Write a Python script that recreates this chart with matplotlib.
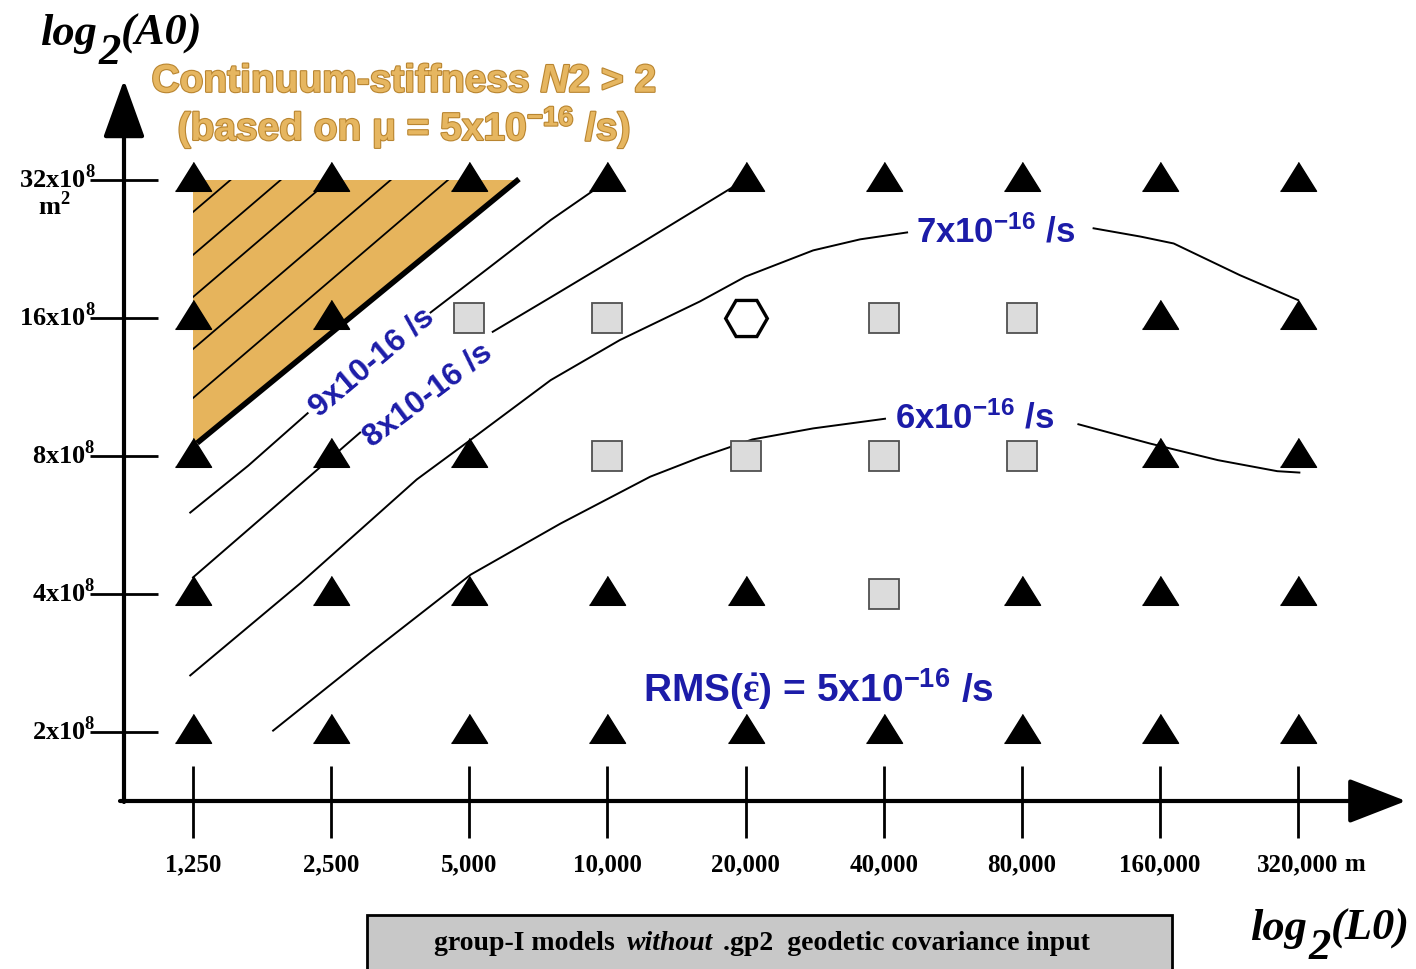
import numpy as np
import matplotlib
matplotlib.use("Agg")
import matplotlib.pyplot as plt
import matplotlib.patheffects as pe
from matplotlib.patches import Polygon, Rectangle, FancyArrowPatch

plt.rcParams["mathtext.fontset"] = "custom"
plt.rcParams["mathtext.rm"] = "Liberation Sans:bold"
plt.rcParams["mathtext.it"] = "Liberation Sans:bold:italic"
plt.rcParams["mathtext.bf"] = "Liberation Sans:bold"
plt.rcParams["mathtext.sf"] = "Liberation Serif:bold"

# ---- values ----
L0 = [1250, 2500, 5000, 10000, 20000, 40000, 80000, 160000, 320000]   # m
A0 = [2, 4, 8, 16, 32]                                                  # x10^8 m^2

# symbol of each model, per A0 row (columns follow L0): T triangle, S square, H hexagon
symbols = {
    32: "TTTTTTTTT",
    16: "TTSSHSSTT",
    8:  "TTTSSSSTT",
    4:  "TTTTTSTTT",
    2:  "TTTTTTTTT",
}

# RMS strain-rate contours in grid steps (log2(L0/1250), log2(A0/2e8)); nan = gap for the label
contour_9 = [(-0.02, 1.59), (0.40, 1.93), (0.83, 2.31), (np.nan, np.nan),
             (1.72, 3.04), (2.15, 3.37), (2.59, 3.71), (2.98, 3.98)]
contour_8 = [(0.00, 1.12), (0.60, 1.64), (1.21, 2.17), (np.nan, np.nan),
             (2.17, 2.90), (2.59, 3.15), (3.24, 3.54), (3.96, 3.98)]
contour_7 = [(-0.02, 0.41), (0.78, 1.08), (1.62, 1.83), (2.00, 2.11), (2.59, 2.55),
             (3.09, 2.84), (3.67, 3.12), (4.00, 3.30), (4.49, 3.49), (4.83, 3.57),
             (5.17, 3.62), (np.nan, np.nan), (6.52, 3.65), (6.86, 3.59), (7.10, 3.54),
             (7.58, 3.31), (8.00, 3.13)]
contour_6 = [(0.58, 0.01), (1.28, 0.57), (2.01, 1.14), (2.66, 1.51), (3.31, 1.85),
             (3.67, 1.99), (4.05, 2.12), (4.49, 2.20), (5.01, 2.27), (np.nan, np.nan),
             (6.41, 2.23), (6.93, 2.09), (7.42, 1.97), (7.85, 1.89), (8.01, 1.88)]

# continuum-stiffness N2 > 2 region and its boundary
region_n2 = [(0.0, 4.0), (2.35, 4.0), (0.0, 2.065)]
boundary_n2 = [(0.03, 2.094), (2.36, 4.007)]
hatch_starts = [3.768, 3.457, 3.152, 2.775, 2.420]
hatch_slope = 0.856

W, H = 1416, 969
BLUE = "#1c1ca8"
SERIF = dict(family="Liberation Serif", weight="bold")
SANS = dict(family="Liberation Sans", weight="bold")

fig = plt.figure(figsize=(W / 100, H / 100), dpi=100)
ax = fig.add_axes([0, 0, 1, 1])
ax.set_xlim(-193 / 138.125, (W - 193) / 138.125)
ax.set_ylim((732 - H) / 138, 732 / 138)
ax.axis("off")


def P(x, y):
    # picture pixel -> grid-step coordinates
    return (x - 193) / 138.125, (732 - y) / 138


xs = np.log2(np.array(L0) / L0[0])
ys = np.log2(np.array(A0) / A0[0])

# shaded region with hatching
poly = Polygon(region_n2, closed=True, facecolor="#e6b45c", edgecolor="none", zorder=1)
ax.add_patch(poly)
for j0 in hatch_starts:
    hx = np.array([-0.05, (4.0 - j0) / hatch_slope + 0.05])
    ln, = ax.plot(hx, j0 + hatch_slope * hx, color="k", lw=1.3, zorder=2)
    ln.set_clip_path(poly)
bx, by = zip(*boundary_n2)
ax.plot(bx, by, color="k", lw=4, solid_capstyle="butt", zorder=3)

# contours
for c in (contour_9, contour_8, contour_7, contour_6):
    cx, cy = zip(*c)
    ax.plot(cx, cy, color="k", lw=1.4, zorder=2)

# axes with arrows
ax.add_patch(FancyArrowPatch(P(124, 802), P(124, 80), arrowstyle="-|>,head_length=36,head_width=13",
                             mutation_scale=1, lw=3, color="k", shrinkA=0, shrinkB=0, zorder=4))
ax.add_patch(FancyArrowPatch(P(120, 801), P(1406, 801), arrowstyle="-|>,head_length=36,head_width=14",
                             mutation_scale=1, lw=3, color="k", shrinkA=0, shrinkB=0, zorder=4))
ax.vlines(xs, P(0, 766)[1], P(0, 838)[1], color="k", lw=2, zorder=4)
ax.hlines(ys, P(90, 0)[0], P(158, 0)[0], color="k", lw=2, zorder=4)

# model symbols
tri = [(-1, -0.6), (1, -0.6), (0, 1.0)]
pts = {"T": ([], []), "S": ([], []), "H": ([], [])}
for a, row in symbols.items():
    for k, s in enumerate(row):
        pts[s][0].append(xs[k])
        pts[s][1].append(np.log2(a / A0[0]))
ax.plot(*pts["T"], ls="none", marker=tri, ms=26, color="k", zorder=5)
ax.plot(*pts["S"], ls="none", marker="s", ms=21, mfc="#dcdcdc", mec="#505050", mew=1.3, zorder=5)
ax.plot(*pts["H"], ls="none", marker="H", ms=30, mfc="white", mec="k", mew=2.4, zorder=5)

# tick labels
for x, v in zip(xs, L0):
    t = ax.text(x, P(0, 871)[1], f"{v:,}", ha="center", va="baseline", fontsize=18, **SERIF)
ax.annotate("m", xy=(1, 0), xycoords=t, xytext=(4, 0), textcoords="offset points",
            ha="left", va="bottom", fontsize=18, **SERIF)
for y, v in zip(ys, A0):
    ax.text(P(96, 0)[0], y - 0.058, f"{v}x10" + r"$^{\mathsf{8}}$", ha="right", va="baseline",
            fontsize=19, **SERIF)
ax.text(*P(54, 215), r"m$^{\mathsf{2}}$", ha="center", va="baseline", fontsize=19, **SERIF)


def run(x, y, pieces):
    # pieces: (text, size, style, gap_pt, dy_pt) drawn left to right
    s, size, style, _, _ = pieces[0]
    prev = ax.text(*P(x, y), s, fontsize=size, ha="left", va="baseline", zorder=6, **style)
    for s, size, style, gap, dy in pieces[1:]:
        prev = ax.annotate(s, xy=(1, 0), xycoords=prev, xytext=(gap, dy),
                           textcoords="offset points", ha="left", va="bottom",
                           fontsize=size, zorder=6, **style)
    return prev


BI = dict(family="Liberation Serif", weight="bold", style="italic")
run(40, 45, [("log", 32, BI, 0, 0), ("2", 32, BI, 1, -14), ("(A0)", 32, BI, 0, 14)])
run(1250, 940, [("log", 32, BI, 0, 0), ("2", 32, BI, 1, -14), ("(L0)", 32, BI, 0, 14)])

# caption box
ax.add_patch(Rectangle((367 / W, 1 - 975 / H), (1172 - 367) / W, 60 / H, transform=fig.transFigure,
                       facecolor="#c8c8c8", edgecolor="k", lw=2, zorder=0, clip_on=False))
run(434, 950, [("group-I models", 20, SERIF, 0, 0),
               ("without", 20, dict(SERIF, style="italic"), 9, 0),
               (".gp2  geodetic covariance input", 20, SERIF, 7, 0)])

# orange title
orange = dict(color="#e6b660", path_effects=[pe.withStroke(linewidth=1.6, foreground="#b98530")])
ax.text(*P(404, 92), r"Continuum-stiffness $\mathit{N2}$ > 2", ha="center", va="baseline",
        fontsize=28, **SANS, **orange)
ax.text(*P(404, 140), "(based on \u03bc = 5x10$^{-16}$ /s)", ha="center", va="baseline",
        fontsize=28, **SANS, **orange)

# contour labels
ax.text(*P(372, 362), "9x10-16 /s", rotation=40, ha="center", va="center",
        rotation_mode="anchor", fontsize=23, color=BLUE, **SANS)
ax.text(*P(428, 395), "8x10-16 /s", rotation=37, ha="center", va="center",
        rotation_mode="anchor", fontsize=23, color=BLUE, **SANS)
ax.text(*P(996, 242), "7x10$^{-16}$ /s", ha="center", va="baseline", fontsize=25, color=BLUE, **SANS)
ax.text(*P(975, 428), "6x10$^{-16}$ /s", ha="center", va="baseline", fontsize=25, color=BLUE, **SANS)
ax.text(*P(818, 702), r"RMS($\dot{\mathsf{\varepsilon}}$) = 5x10$^{-16}$ /s", ha="center",
        va="baseline", fontsize=28, color=BLUE, **SANS)

fig.savefig("out.png", dpi=100)
